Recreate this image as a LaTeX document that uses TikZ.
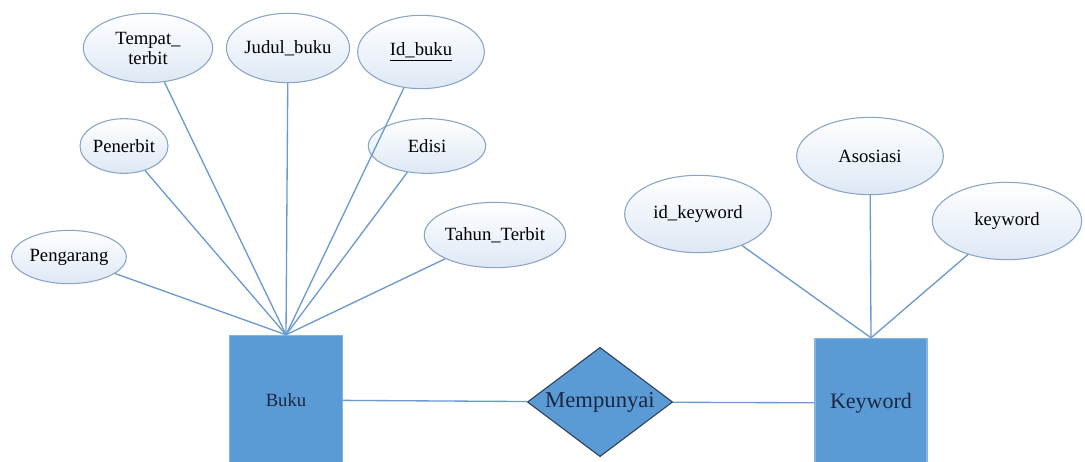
\documentclass[tikz,border=0pt]{standalone}
\usepackage{fontspec}
\setmainfont{Liberation Serif}
\newfontfamily\erfont{Liberation Serif}
\usetikzlibrary{shapes.geometric,positioning}
\definecolor{entblue}{HTML}{5B9BD5}
\definecolor{attedge}{HTML}{8AA4C4}
\definecolor{attfill}{HTML}{DDE8F5}
\definecolor{linkblue}{HTML}{6A9AD0}
\definecolor{navytext}{HTML}{1B2740}
\definecolor{relborder}{HTML}{2E3B55}
\tikzset{
    %Define style for attributes
    attrib/.style={
           ellipse,
           draw=attedge, line width=0.8pt,
           top color=white, bottom color=attfill,
           inner sep=0pt,
           font=\erfont\fontsize{14}{15}\selectfont,
           align=center},
    %Define style for entities
    entity/.style={
           rectangle,
           draw=entblue!75!white, line width=0.8pt,
           fill=entblue,
           minimum width=85pt,
           minimum height=97pt,
           text=navytext},
    %Define style for relations
    relation/.style={
           diamond,
           aspect=1.4,
           draw=relborder, line width=0.8pt,
           fill=entblue,
           inner sep=0pt,
           minimum width=109pt,
           minimum height=82pt,
           text=navytext,
           font=\erfont\fontsize{17}{18}\selectfont},
    % Define line style
    link/.style={
           draw=linkblue,
           line width=1pt}
}
\begin{document}
\begin{tikzpicture}[x=0.75pt,y=-0.75pt]
\clip (0,0) rectangle (1085,461);
 %entities and relation
\node[entity, font=\erfont\fontsize{14}{15}\selectfont](buku) at (286,400){Buku};
\node[entity, minimum width=84pt, font=\erfont\fontsize{16.5}{18}\selectfont](keyword) at (871,403){Keyword};
\node[relation](punya) at (600,402){Mempunyai};

 %attributes of Buku
\node[attrib, minimum width=86pt, minimum height=40pt](pengarang) at (69,257){Pengarang};
\node[attrib, minimum width=66pt, minimum height=41pt](penerbit) at (124,146){Penerbit};
\node[attrib, minimum width=97pt, minimum height=52pt](tempat) at (148,48){Tempat\_\\terbit};
\node[attrib, minimum width=92pt, minimum height=52pt](judul) at (288,48){Judul\_buku};
\node[attrib, minimum width=95pt, minimum height=55pt](idbuku) at (421,52){\underline{Id\_buku}};
\node[attrib, minimum width=88pt, minimum height=41pt](edisi) at (427,146){Edisi};
\node[attrib, minimum width=102pt, minimum height=49pt](tahun) at (495,235){Tahun\_Terbit};

 %attributes of Keyword
\node[attrib, minimum width=110pt, minimum height=58pt](idkey) at (698,214){id\_keyword};
\node[attrib, minimum width=110pt, minimum height=58pt](asosiasi) at (870,156){Asosiasi};
\node[attrib, minimum width=112pt, minimum height=58pt](kw) at (1007,221){keyword};

 \path[link]
    (pengarang) edge (buku.north)
    (penerbit) edge (buku.north)
    (tempat) edge (buku.north)
    (judul) edge (buku.north)
    (idbuku) edge (buku.north)
    (edisi) edge (buku.north)
    (tahun) edge (buku.north)
    (idkey) edge (keyword.north)
    (asosiasi) edge (keyword.north)
    (kw) edge (keyword.north)
    (buku) edge (punya)
    (punya) edge (keyword);
\end{tikzpicture}
\end{document}
